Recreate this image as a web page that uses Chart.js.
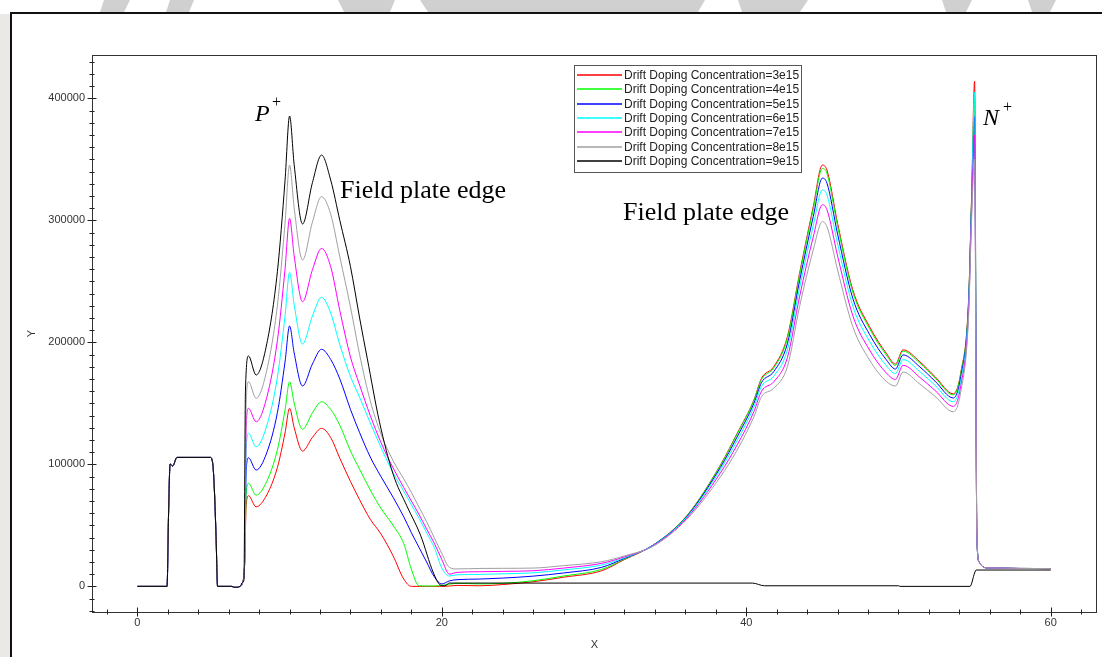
<!DOCTYPE html>
<html>
<head>
<meta charset="utf-8">
<title>Drift doping sweep</title>
<script src="https://cdn.jsdelivr.net/npm/chart.js@4.4.1/dist/chart.umd.min.js"></script>
<style>
  html, body { margin: 0; padding: 0; background: #fff; }
  #wrap { width: 1102px; height: 657px; position: relative; }
</style>
</head>
<body>
<div id="wrap"><canvas id="c" width="1102" height="657"></canvas></div>
<script>
// ── Data ───────────────────────────────────────────────────
// the pulse at x = 2..5 is the same for every curve
const pulseX = [0, 1.95, 2.05, 2.15, 2.32, 2.6, 4.78, 4.95, 5.06, 5.17, 5.27, 6.2, 6.4, 6.75, 6.92];
const pulseY = [0, 0, 60000, 100300, 98600, 105700, 105700, 100800, 78900, 40700, 0, 0, -800, 0, 3500];

const driftX = [7.05, 7.15, 7.3, 7.8, 8.5, 9.2, 9.7, 10.0, 10.3, 10.85,
                11.5, 12.1, 12.7, 13.3, 14.0, 14.6, 15.3, 16.0, 16.8, 17.5,
                18.0, 18.5, 19.0, 19.5, 20.0, 20.5, 21.0, 22.5, 24, 26,
                28, 30.5, 32, 33.9, 36.1, 38.3, 39.4, 40.5, 41.0, 41.8,
                42.7, 43.5, 44.4, 45.0, 45.3, 46.0, 47.0, 48.1, 49.2, 49.8,
                50.3, 51.4, 52.4, 53.6, 54.1, 54.6, 54.8, 55.0, 55.15, 55.3,
                55.5, 55.8, 60];

const y3e15 = [20000, 66900, 74300, 65200, 74900, 97500, 125700, 145900, 130200, 110900,
               122100, 129500, 122000, 105000, 86000, 71000, 55000, 43000, 25000, 6000,
               0, 0, 0, 0, 0, 300, 800, 500, 1500, 3800,
               7500, 12800, 22000, 33900, 58000, 99400, 125400, 152700, 170500, 180000,
               204600, 256600, 311200, 345300, 341200, 297500, 242900, 212800, 191000, 182200,
               193900, 184100, 171900, 157800, 175700, 233500, 318300, 414000, 40000, 20000,
               16500, 15200, 14600];
const y4e15 = [20000, 76000, 84400, 74800, 86000, 112000, 144500, 167700, 150200, 128700,
               142300, 151300, 145000, 132000, 111000, 96000, 79000, 64000, 50000, 35000,
               14000, 500, 300, 300, 800, 1800, 2500, 2000, 2500, 4600,
               8500, 13900, 22500, 34000, 57800, 99000, 124800, 152200, 169600, 178900,
               203100, 255000, 309100, 342500, 338400, 295200, 241100, 211200, 189600, 181100,
               192800, 183000, 170900, 156900, 174800, 232700, 317200, 400000, 40000, 20000,
               16500, 15200, 14600];
const y5e15 = [20000, 94900, 105400, 95300, 109500, 142500, 183900, 213400, 191300, 164200,
               182300, 194300, 186000, 170000, 145000, 126000, 106000, 90000, 73000, 57000,
               44000, 32000, 20000, 8000, 2000, 4500, 5500, 6000, 6800, 8400,
               11000, 15600, 23000, 33900, 57300, 97500, 122500, 150000, 167000, 175900,
               198900, 250300, 303000, 334600, 330500, 288700, 236000, 206500, 185700, 178100,
               189700, 179900, 168200, 154400, 172100, 230400, 314100, 385000, 40000, 20000,
               16500, 15200, 14600];
const y6e15 = [20000, 112900, 125400, 114400, 131600, 171600, 221700, 257400, 230900, 198600,
               221600, 236900, 224000, 198000, 172000, 155000, 134000, 114000, 93000, 78000,
               67000, 56000, 44000, 32000, 15000, 8500, 9500, 9800, 10300, 11100,
               13500, 17500, 23500, 33700, 56800, 95500, 119500, 147000, 163900, 172200,
               193800, 244500, 295600, 324900, 320800, 280700, 229700, 200800, 180900, 174300,
               185900, 176000, 164800, 151300, 168800, 227600, 310200, 405000, 40000, 20000,
               16500, 15200, 14600];
const y7e15 = [20000, 131300, 145900, 134900, 154900, 201600, 259900, 301600, 270900, 233300,
               259500, 277000, 262000, 226000, 188000, 165000, 140000, 118000, 97000, 81000,
               70000, 59000, 47000, 35500, 22000, 10000, 11500, 12000, 12300, 12800,
               15000, 18900, 24200, 33400, 56000, 93000, 115900, 143200, 159900, 167600,
               187400, 237400, 286400, 312800, 308700, 270800, 221800, 193700, 174900, 169600,
               181200, 171300, 160600, 147500, 164800, 224000, 305500, 370000, 40000, 20000,
               16500, 15200, 14600];
const y8e15 = [20000, 150900, 167700, 154100, 177000, 230600, 297500, 345300, 310300, 267500,
               298600, 319400, 305000, 270000, 229000, 190000, 152000, 125000, 103000, 88000,
               77000, 65000, 53000, 40000, 27000, 15500, 14300, 14700, 14800, 15000,
               17000, 20200, 25000, 33000, 55000, 89800, 111700, 139000, 155400, 162300,
               180000, 229200, 275700, 298900, 294800, 259300, 212800, 185500, 168000, 164200,
               175700, 165800, 155800, 143100, 160100, 220000, 300000, 350000, 40000, 20000,
               16500, 15200, 14600];

// 9e15 has its own sampling: no field-plate peak on the right side
const x9e15 = [7.0, 7.1, 7.3, 7.8, 8.5, 9.2, 9.7, 10.0, 10.3, 10.85,
               11.5, 12.1, 12.7, 13.3, 14.0, 14.6, 15.1, 15.9, 16.8, 17.7,
               18.6, 19.45, 19.9, 20.2, 20.5, 40.4, 41.2, 50.0, 50.1, 54.7,
               55.0, 55.1, 60];
const y9e15 = [5000, 160000, 188800, 173200, 198700, 258100, 332400, 385500, 345700, 297000,
               330900, 353500, 333000, 300000, 262000, 220000, 187000, 135000, 92000, 66000,
               42000, 11000, 1100, 500, 2700, 2700, 500, 500, 0, 0,
               11000, 13400, 13400];

const seriesLabels = ['Drift Doping Concentration=3e15', 'Drift Doping Concentration=4e15',
                      'Drift Doping Concentration=5e15', 'Drift Doping Concentration=6e15',
                      'Drift Doping Concentration=7e15', 'Drift Doping Concentration=8e15',
                      'Drift Doping Concentration=9e15'];
const seriesColors = ['#ff0000', '#00ff00', '#0000ff', '#00ffff', '#ff00ff', '#a0a0a4', '#000000'];

const xTicks = [0, 20, 40, 60];
const yTicks = [0, 100000, 200000, 300000, 400000];

// ── Build datasets ─────────────────────────────────────────
const toPoints = (xs, ys) => xs.map((x, i) => ({ x, y: ys[i] }));

const driftYs = [y3e15, y4e15, y5e15, y6e15, y7e15, y8e15];
const curves = driftYs.map(ys => toPoints(pulseX.concat(driftX), pulseY.concat(ys)));
curves.push(toPoints(pulseX.concat(x9e15), pulseY.concat(y9e15)));

const datasets = curves.map((pts, i) => ({
  label: seriesLabels[i],
  data: pts,
  borderColor: seriesColors[i],
  backgroundColor: seriesColors[i],
  borderWidth: 1,
  pointRadius: 0,
  fill: false,
  cubicInterpolationMode: 'monotone',
  order: seriesLabels.length - 1 - i   // 9e15 drawn last, on top
}));

const SANS  = "'Liberation Sans', Arial, sans-serif";
const SERIF = "'Liberation Serif', 'Times New Roman', serif";

// ── Page furniture: paper, frame, faint watermark ──────────
const paperPlugin = {
  id: 'paper',
  beforeDraw(chart) {
    const ctx = chart.ctx;
    ctx.save();
    ctx.fillStyle = '#fff';
    ctx.fillRect(0, 0, chart.width, chart.height);
    ctx.fillStyle = '#d0d0d0';
    [[104, 130, 100, 124], [170, 194, 166, 189], [338, 395, 344, 390], [420, 705, 428, 698],
     [738, 808, 742, 800], [942, 972, 946, 966], [1028, 1056, 1032, 1050]].forEach(([a, b, c, d]) => {
      ctx.beginPath();
      ctx.moveTo(a, 0); ctx.lineTo(b, 0); ctx.lineTo(d, 12); ctx.lineTo(c, 12);
      ctx.closePath(); ctx.fill();
    });
    ctx.fillStyle = '#ebe9e6';
    ctx.fillRect(0, 14, 10, chart.height - 14);
    ctx.strokeStyle = '#111';
    ctx.lineWidth = 2;
    ctx.beginPath();
    ctx.moveTo(11, chart.height); ctx.lineTo(11, 13); ctx.lineTo(chart.width, 13);
    ctx.stroke();
    ctx.restore();
  }
};

// ── Axes box, minor ticks, legend and annotations ──────────
const markupPlugin = {
  id: 'markup',
  afterDraw(chart) {
    const { ctx, chartArea: a, scales: { x, y } } = chart;
    ctx.save();

    ctx.strokeStyle = '#333';
    ctx.lineWidth = 1;
    ctx.strokeRect(Math.round(a.left) + 0.5, Math.round(a.top) + 0.5,
                   Math.round(a.right - a.left) - 1, Math.round(a.bottom - a.top));

    ctx.strokeStyle = '#222';
    ctx.beginPath();
    for (let v = -20000; v <= y.max; v += 10000) {
      const py = Math.round(y.getPixelForValue(v)) + 0.5;
      const h = v % 100000 === 0 ? 4.5 : 2.5;
      ctx.moveTo(a.left - h, py); ctx.lineTo(a.left + h, py);
    }
    for (let v = -2; v <= x.max; v += 2) {
      const px = Math.round(x.getPixelForValue(v)) + 0.5;
      const h = v % 20 === 0 ? 4.5 : 2.5;
      ctx.moveTo(px, a.bottom - h); ctx.lineTo(px, a.bottom + h);
    }
    ctx.stroke();

    // legend box
    const lx = 574, ly = 65, lw = 227, lh = 107, rowH = 14.33;
    ctx.fillStyle = '#fff';
    ctx.fillRect(lx, ly, lw, lh);
    ctx.strokeStyle = '#555';
    ctx.strokeRect(lx + 0.5, ly + 0.5, lw, lh);
    ctx.font = `12px ${SANS}`;
    ctx.textBaseline = 'middle';
    seriesLabels.forEach((label, i) => {
      const ry = Math.round(ly + 10 + i * rowH);
      ctx.beginPath();
      ctx.strokeStyle = seriesColors[i];
      ctx.lineWidth = 1.6;
      ctx.moveTo(lx + 3, ry); ctx.lineTo(lx + 48, ry);
      ctx.stroke();
      ctx.fillStyle = '#222';
      ctx.fillText(label, lx + 50, ry + 0.5);
    });

    // annotations
    ctx.fillStyle = '#000';
    ctx.textBaseline = 'alphabetic';
    ctx.font = `italic 24px ${SERIF}`;
    ctx.fillText('P', 255, 121);
    ctx.fillText('N', 983, 125);
    ctx.font = `16px ${SERIF}`;
    ctx.fillText('+', 272, 107);
    ctx.fillText('+', 1003, 112);
    ctx.font = `26px ${SERIF}`;
    ctx.fillText('Field plate edge', 340, 198);
    ctx.fillText('Field plate edge', 623, 220);
    ctx.restore();
  }
};

new Chart(document.getElementById('c').getContext('2d'), {
  type: 'line',
  data: { datasets },
  options: {
    responsive: false, animation: false, devicePixelRatio: 1,
    layout: { padding: { top: 55, right: 5, left: 0, bottom: 0 } },
    plugins: { legend: { display: false }, tooltip: { enabled: false } },
    scales: {
      x: {
        type: 'linear', min: -2.98, max: 63.04,
        grid: { display: false, drawTicks: false }, border: { display: false },
        afterBuildTicks: s => { s.ticks = xTicks.map(v => ({ value: v })); },
        afterFit: s => { s.height = 45; },
        ticks: { padding: 4, maxRotation: 0, color: '#333', font: { size: 11, family: SANS } },
        title: { display: true, text: 'X', color: '#333', padding: { top: 0, bottom: 5 },
                 font: { size: 11, family: SANS } }
      },
      y: {
        type: 'linear', min: -21000, max: 435500,
        grid: { display: false, drawTicks: false }, border: { display: false },
        afterBuildTicks: s => { s.ticks = yTicks.map(v => ({ value: v })); },
        afterFit: s => { s.width = 92; },
        ticks: { padding: 7, color: '#333', font: { size: 11, family: SANS },
                 callback: v => String(v) },
        title: { display: true, text: 'Y', color: '#333', padding: { top: 25, bottom: 0 },
                 font: { size: 11, family: SANS } }
      }
    }
  },
  plugins: [paperPlugin, markupPlugin]
});
</script>
</body>
</html>
